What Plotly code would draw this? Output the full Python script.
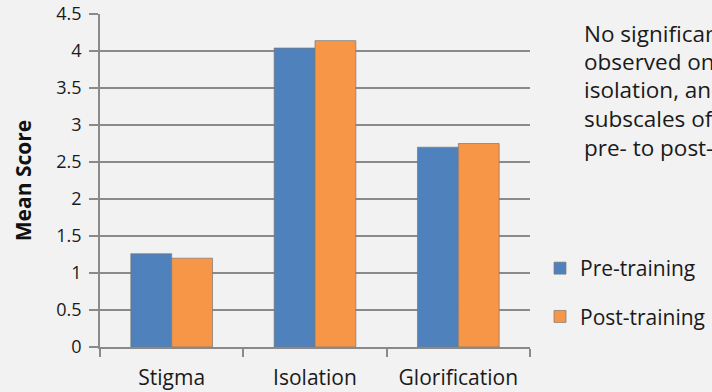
import plotly.graph_objects as go

categories = ["Stigma", "Isolation", "Glorification"]
pre_training = [1.26, 4.04, 2.70]
post_training = [1.20, 4.14, 2.75]
y_ticks = [0, 0.5, 1, 1.5, 2, 2.5, 3, 3.5, 4, 4.5]
y_tick_labels = ["0", "0.5", "1", "1.5", "2", "2.5", "3", "3.5", "4", "4.5"]
note_lines = [
    "No significant change was",
    "observed on the stigma,",
    "isolation, and glorification",
    "subscales of the measure from",
    "pre- to post-training.",
]

FONT = "Open Sans, Noto Sans, sans-serif"
GRID = "#8a8a8a"
TEXT = "#1a1a1a"

fig = go.Figure()
fig.add_trace(go.Bar(
    x=categories, y=pre_training, name="Pre-training", legendgroup="pre",
    marker=dict(color="#4f81bd", line=dict(color="rgba(120,120,120,0.7)", width=1)),
))
fig.add_trace(go.Bar(
    x=categories, y=post_training, name="Post-training", legendgroup="post",
    marker=dict(color="#f79646", line=dict(color="rgba(120,120,120,0.7)", width=1)),
))

# side note, one annotation per line for even line spacing
for i, line in enumerate(note_lines):
    fig.add_annotation(
        text=line, xref="paper", yref="paper", x=(582 - 100) / 430, xanchor="left",
        y=1 - (i * 28.5 + 33 - 14) / 333, yanchor="middle", showarrow=False,
        align="left", font=dict(family=FONT, size=22.5, color=TEXT),
    )

fig.update_layout(
    width=712, height=392,
    margin=dict(l=100, r=182, t=14, b=45, autoexpand=False),
    paper_bgcolor="#f2f2f2", plot_bgcolor="#f2f2f2",
    font=dict(family=FONT, size=18, color="#222222"),
    barmode="group", bargap=0.43, bargroupgap=0,
    showlegend=True,
    legend=dict(
        x=(540 - 100) / 430, xanchor="left", y=(347 - 248) / 333, yanchor="top",
        font=dict(family=FONT, size=21, color=TEXT),
        bgcolor="rgba(0,0,0,0)", tracegroupgap=18, itemwidth=30,
        traceorder="grouped",
    ),
    xaxis=dict(
        automargin=False,
        showline=True, linecolor=GRID, linewidth=1.5,
        ticks="outside", tickson="boundaries", ticklen=8, tickcolor=GRID, tickwidth=1.5,
        showgrid=False, tickfont=dict(size=21, color=TEXT), ticklabelstandoff=11,
    ),
    yaxis=dict(
        automargin=False,
        range=[0, 4.5], tickmode="array", tickvals=y_ticks, ticktext=y_tick_labels,
        showline=True, linecolor=GRID, linewidth=1.5,
        ticks="outside", ticklen=9, tickcolor=GRID, tickwidth=1.5,
        showgrid=True, gridcolor=GRID, gridwidth=1.5, zeroline=False,
        tickfont=dict(size=18, color=TEXT), ticklabelstandoff=4,
        title=dict(text="<b>Mean Score</b>", font=dict(size=21, color="#111111"), standoff=19),
    ),
)

fig.write_html("out.html")
